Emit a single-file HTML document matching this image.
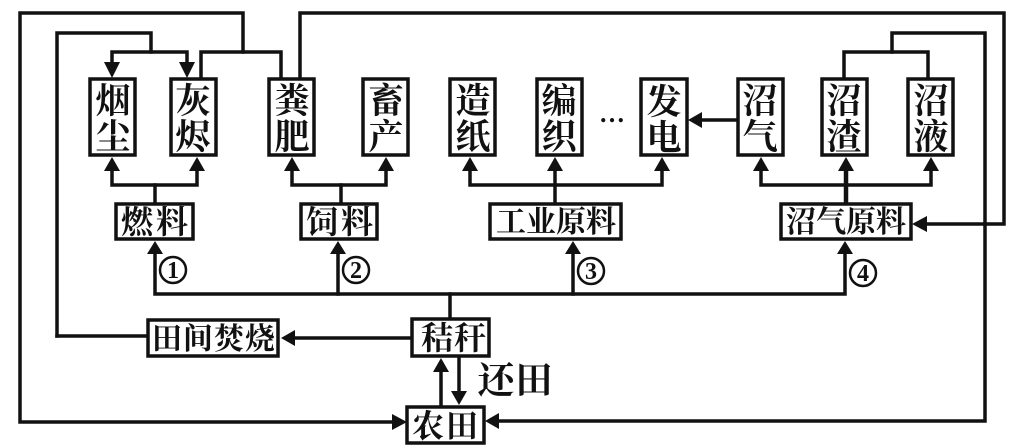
<!DOCTYPE html>
<html><head><meta charset="utf-8"><style>
html,body{margin:0;padding:0;background:#fff;width:1024px;height:448px;overflow:hidden}
svg{display:block}
text{font-family:"Liberation Serif","Noto Serif CJK SC",serif;font-weight:700;fill:#111}
</style></head><body>
<svg width="1024" height="448" viewBox="0 0 1024 448" xmlns="http://www.w3.org/2000/svg">
<rect width="1024" height="448" fill="#fff"/>
<g fill="none" stroke="#111" stroke-width="3.5" stroke-linecap="square">
<path d="M397 422H20V13H243V52"/>
<path d="M201 78V52H281V78"/>
<path d="M57 336V33H151V52"/>
<path d="M112 68V52H187V68"/>
<path d="M300 78V13H1004V224H925"/>
<path d="M985 224V33H892V52"/>
<path d="M844 78V52H928V78"/>
<path d="M985 224V421H495"/>
<path d="M57 336H148"/>
<path d="M112 170V185H197V170"/>
<path d="M155 185V203"/>
<path d="M292 170V185H386V170"/>
<path d="M341 185V203"/>
<path d="M470 170V185H662V170"/>
<path d="M555 170V203"/>
<path d="M761 170V185H931V170"/>
<path d="M846 170V203" stroke-width="4.5"/>
<path d="M155 252V294H845V252"/>
<path d="M338 252V294"/>
<path d="M573 252V294"/>
<path d="M450 294V318"/>
<path d="M295 338H412"/>
<path d="M441 370V406"/>
<path d="M459 356V392"/>
<path d="M700 120H737"/>
</g>
<g fill="#111">
<path d="M112 78L104 62H120Z"/><path d="M187 78L179 62H195Z"/>
<path d="M112 157L104 171H120Z"/><path d="M197 157L189 171H205Z"/>
<path d="M292 157L284 171H300Z"/><path d="M386 157L378 171H394Z"/>
<path d="M470 157L462 171H478Z"/><path d="M555 157L547 171H563Z"/><path d="M662 157L654 171H670Z"/>
<path d="M761 157L753 171H769Z"/><path d="M846 157L838 171H854Z"/><path d="M931 157L923 171H939Z"/>
<path d="M155 241L147 254H163Z"/><path d="M338 241L330 254H346Z"/><path d="M573 241L565 254H581Z"/><path d="M845 241L837 254H853Z"/>
<path d="M688 120L702 112V128Z"/>
<path d="M912 224L927 216V232Z"/>
<path d="M281 338L295 330V346Z"/>
<path d="M441 358L433 372H449Z"/>
<path d="M459 405L451 391H467Z"/>
<path d="M407 422L392 414V430Z"/>
<path d="M485 421L499 413V429Z"/>
</g>
<g fill="#fff" stroke="#111" stroke-width="3.5">
<rect x="90" y="79" width="45" height="76"/>
<rect x="171" y="79" width="45" height="76"/>
<rect x="269" y="79" width="45" height="76"/>
<rect x="363" y="79" width="45" height="76"/>
<rect x="450" y="79" width="45" height="76"/>
<rect x="537" y="79" width="45" height="76"/>
<rect x="641" y="79" width="46" height="76"/>
<rect x="738" y="79" width="45" height="76"/>
<rect x="822" y="79" width="45" height="76"/>
<rect x="908" y="79" width="45" height="76"/>
<rect x="116" y="204" width="77" height="35"/>
<rect x="301" y="204" width="76" height="35"/>
<rect x="490" y="204" width="131" height="35"/>
<rect x="781" y="204" width="130" height="35"/>
<rect x="148" y="320" width="130" height="36"/>
<rect x="412" y="319" width="77" height="37"/>
<rect x="407" y="407" width="77" height="36"/>
</g>
<g font-size="35" text-anchor="middle">
<text x="113" y="113">烟</text><text x="113" y="149">尘</text>
<text x="193" y="113">灰</text><text x="193" y="149">烬</text>
<text x="292" y="113">粪</text><text x="292" y="149">肥</text>
<text x="386" y="113">畜</text><text x="386" y="149">产</text>
<text x="473" y="113">造</text><text x="473" y="149">纸</text>
<text x="559" y="113">编</text><text x="559" y="149">织</text>
<text x="664" y="114">发</text><text x="664" y="150">电</text>
<text x="760" y="113">沼</text><text x="760" y="149">气</text>
<text x="844" y="113">沼</text><text x="844" y="149">渣</text>
<text x="931" y="113">沼</text><text x="931" y="149">液</text>
</g>
<text x="612" y="122" font-size="26" text-anchor="middle">…</text>
<g font-size="32" text-anchor="middle">
<text x="137" y="233">燃</text><text x="172" y="233">料</text>
<text x="322" y="233">饲</text><text x="357" y="233">料</text>
<text x="437" y="349">秸</text><text x="470" y="349">秆</text>
<text x="428" y="437">农</text><text x="462" y="437">田</text>
</g>
<g font-size="30" text-anchor="middle">
<text x="511" y="232">工</text><text x="541" y="232">业</text><text x="571" y="232">原</text><text x="601" y="232">料</text>
<text x="801" y="232">沼</text><text x="831" y="232">气</text><text x="861" y="232">原</text><text x="891" y="232">料</text>
<text x="167" y="349">田</text><text x="198" y="349">间</text><text x="229" y="349">焚</text><text x="260" y="349">烧</text>
</g>
<g font-size="37" text-anchor="middle">
<text x="496" y="393">还</text><text x="534" y="393">田</text>
</g>
<g fill="none" stroke="#111" stroke-width="2.5">
<circle cx="173" cy="270" r="13"/>
<circle cx="356" cy="270" r="13"/>
<circle cx="591" cy="271" r="13"/>
<circle cx="863" cy="273" r="13"/>
</g>
<g font-size="24" text-anchor="middle">
<text x="173" y="278">1</text><text x="356" y="278">2</text><text x="591" y="279">3</text><text x="863" y="281">4</text>
</g>
</svg>
</body></html>
